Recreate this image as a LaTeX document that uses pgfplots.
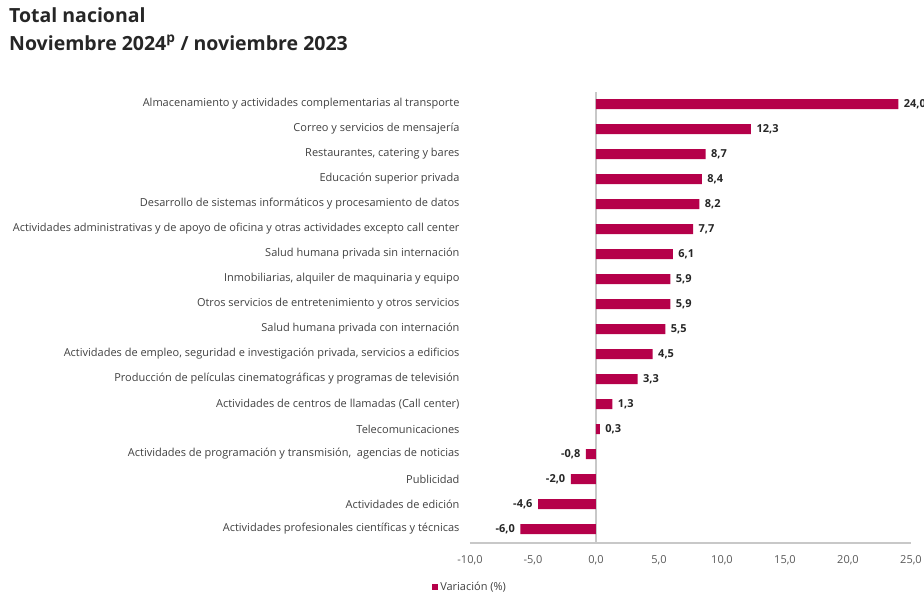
\documentclass[border=0pt]{standalone}
\usepackage{fontspec}
\setmainfont{Open Sans}
\usepackage{pgfplots}
\pgfplotsset{compat=1.18}
\definecolor{barc}{RGB}{181,0,74}
\definecolor{txt}{RGB}{64,64,64}
\definecolor{tick}{RGB}{89,89,89}
\definecolor{axl}{RGB}{200,200,200}
\begin{document}
\begin{tikzpicture}
\useasboundingbox (0,0) rectangle (924pt,595pt);
\node[anchor=west, font=\bfseries\fontsize{19.5}{22}\selectfont, text=black!85, inner sep=0pt] at (9pt,580pt) {Total nacional};
\node[anchor=west, font=\bfseries\fontsize{19.5}{22}\selectfont, text=black!85, inner sep=0pt] at (9pt,552pt) {Noviembre 2024\textsuperscript{p} / noviembre 2023};
\begin{axis}[
  at={(470pt,52pt)}, anchor=south west,
  scale only axis, width=441pt, height=451pt,
  xmin=-10, xmax=25, ymin=-0.48, ymax=17.56,
  y dir=reverse,
  xbar, bar width=10pt, bar shift=0pt,
  axis x line*=bottom, axis y line*=left,
  y axis line style={draw=none},
  x axis line style={axl, line width=1.2pt},
  major tick length=0pt,
  xtick={-10,-5,0,5,10,15,20,25},
  ytick={0,...,17},
  yticklabels={
    Almacenamiento y actividades complementarias al transporte,
    Correo y servicios de mensajería,
    {Restaurantes, catering y bares},
    Educación superior privada,
    Desarrollo de sistemas informáticos y procesamiento de datos,
    Actividades administrativas y de apoyo de oficina y otras actividades excepto call center,
    Salud humana privada sin internación,
    {Inmobiliarias, alquiler de maquinaria y equipo},
    Otros servicios de entretenimiento y otros servicios,
    Salud humana privada con internación,
    {Actividades de empleo, seguridad e investigación privada, servicios a edificios},
    Producción de películas cinematográficas y programas de televisión,
    Actividades de centros de llamadas (Call center),
    Telecomunicaciones,
    {Actividades de programación y transmisión,\ \ agencias de noticias},
    Publicidad,
    Actividades de edición,
    Actividades profesionales científicas y técnicas},
  yticklabel style={font=\fontsize{11}{13}\selectfont, text=txt, xshift=-7pt},
  xticklabel style={font=\fontsize{11}{13}\selectfont, text=tick, yshift=-9pt,
    /pgf/number format/.cd, fixed, fixed zerofill, precision=1, use comma, assume math mode=true},
  extra x ticks={0}, extra x tick labels={},
  extra x tick style={grid=major, major grid style={axl, line width=1.2pt}},
  point meta=x,
  nodes near coords={\pgfmathprintnumber[fixed,fixed zerofill,precision=1,use comma,assume math mode=true]{\pgfplotspointmeta}},
  nodes near coords style={font=\bfseries\fontsize{11}{13}\selectfont, text=black!85},
  legend style={at={(axis description cs:-0.086,-0.097)}, anchor=west, draw=none, fill=none,
    font=\fontsize{11}{13}\selectfont, text=txt, inner sep=0pt},
  legend image code/.code={\fill[barc] (0pt,-3pt) rectangle (6pt,3pt);},
  clip=false,
]
\addplot[fill=barc, draw=none, nodes near coords style={anchor=west, xshift=2pt}] coordinates {
 (24.0,0) (12.3,1) (8.7,2) (8.4,3) (8.2,4) (7.7,5) (6.1,6) (5.9,7) (5.9,8)
 (5.5,9) (4.5,10) (3.3,11) (1.3,12) (0.3,13)};
\addlegendentry{Variación (\%)}
\addplot[fill=barc, draw=none, forget plot, nodes near coords style={anchor=east, xshift=-2pt}] coordinates {
 (-0.8,14) (-2.0,15) (-4.6,16) (-6.0,17)};
\end{axis}
\end{tikzpicture}
\end{document}
